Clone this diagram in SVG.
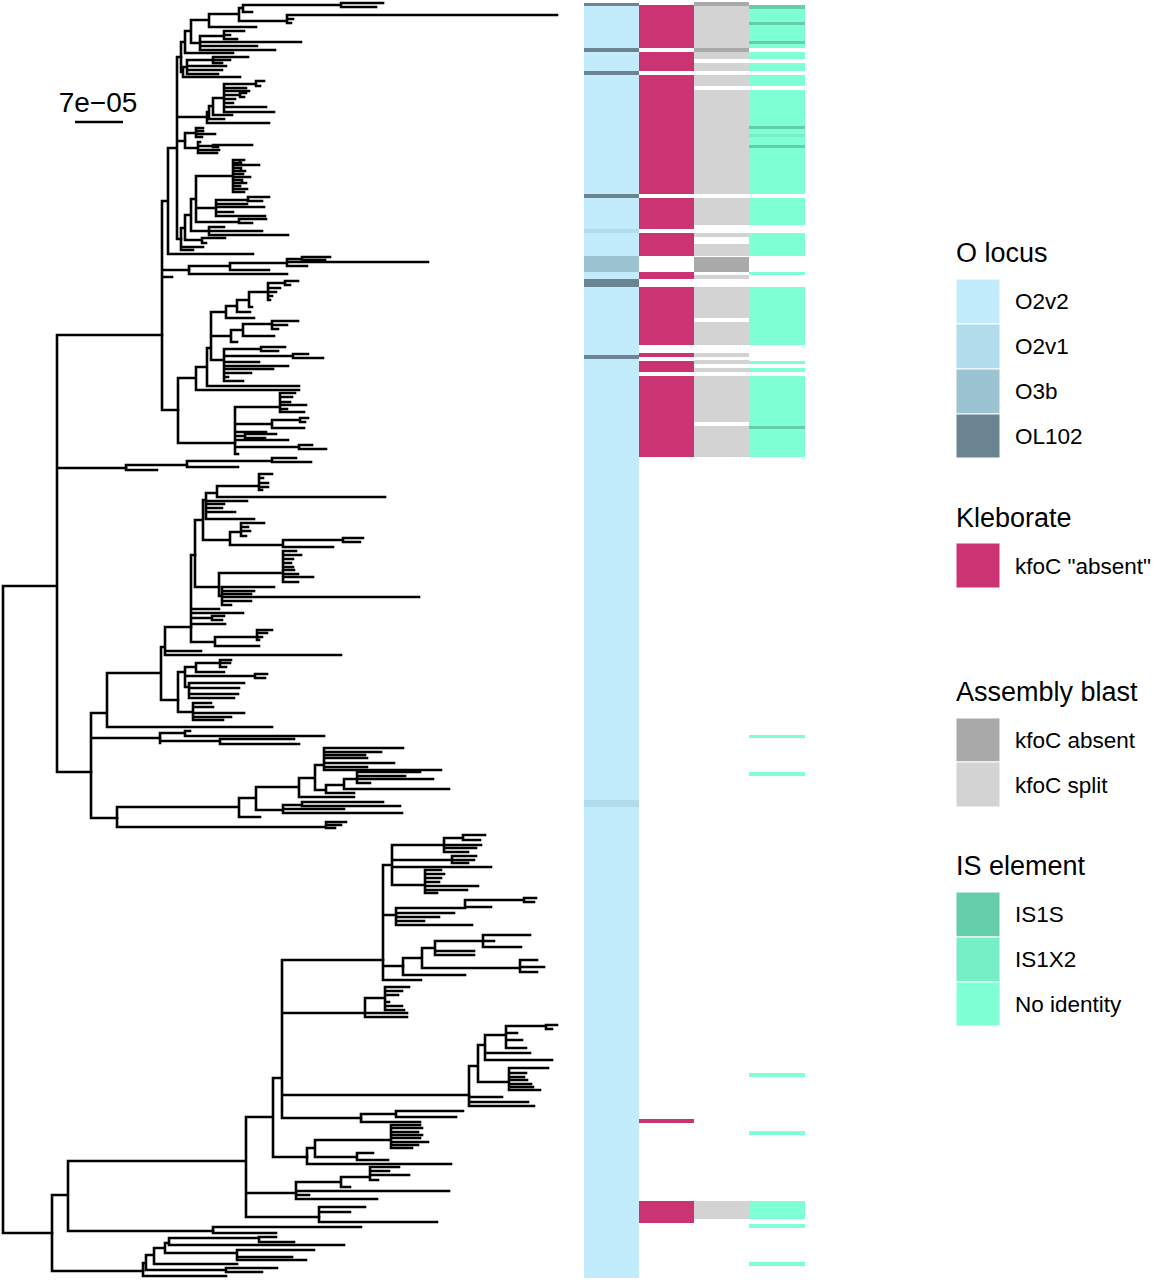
<svg xmlns="http://www.w3.org/2000/svg" width="1157" height="1280" viewBox="0 0 1157 1280">
<style>
.br{fill:none;stroke:#000;stroke-width:2.6;stroke-linecap:square}
.t{font-family:"Liberation Sans",Arial,Helvetica,sans-serif;fill:#000}
.ttl{font-size:27px}
.lab{font-size:22.5px}
.o22{fill:#c2ecfb}.o21{fill:#b0dcec}.o3b{fill:#9cc3d2}.ol{fill:#6a8591}
.kl{fill:#cc3373}.ab{fill:#a9a9a9}.sp{fill:#d3d3d3}
.s1{fill:#66cdaa}.x2{fill:#76eec6}.ni{fill:#7fffd4}
.lg{stroke:#fff;stroke-width:1}
</style>
<rect width="1157" height="1280" fill="#fff"/>

<g id="tree">
<path class="br" d="M3 586V1233M3 586H57M3 1233H52M57 335V772M57 335H162M57 468H126M57 772H91"/>
<path class="br" d="M162 201V410M162 201H168M162 270H189M162 277H172M162 410H178M168 148V254M168 148H177M168 254H253M177 57V239M177 57H181M177 117H207M177 141H185M177 239H181"/>
<path class="br" d="M181 42V72M181 42H185M181 72H183M185 31V53M185 31H191M185 53H233M191 20V43M191 20H209M191 43H200M209 14V27M209 14H239M209 27H256M239 8V21M239 8H243M239 21H287M243 5V12M243 5H341M243 12H252M341 3V7M341 3H383M341 7H376M287 15V23M287 15H557M287 19H293M287 23H291M200 36V50M200 36H224M200 42H301M200 46H257M200 50H275M224 31V39M224 31H244M224 35H230M224 39H237M183 67V77M183 67H187M183 77H240M187 60V74M187 60H213M187 66H226M187 70H222M187 74H218M213 57V63M213 57H248M213 60H230M213 63H222"/>
<path class="br" d="M207 112V123M207 112H209M207 123H269M209 106V119M209 106H213M209 119H224M213 98V115M213 98H224M213 115H232M224 84V112M224 84H256M224 88H246M224 91H249M224 95H240M224 99H235M224 103H233M224 107H266M224 112H274M256 81V86M256 81H264M256 86H260M240 93V97M240 93H246M240 97H244"/>
<path class="br" d="M185 133V148M185 133H196M185 148H198M196 128V137M196 128H203M196 131H203M196 134H215M196 137H202M198 142V153M198 142H200M198 146H213M198 150H219M198 153H217M213 145V147M213 145H252M213 147H218"/>
<path class="br" d="M181 228V250M181 228H185M181 247H203M181 250H193M185 215V240M185 215H191M185 240H202M202 238V243M202 238H225M202 243H206M191 199V231M191 199H196M191 231H209M209 227V235M209 227H224M209 231H262M209 235H288M196 176V222M196 176H233M196 208H216M196 222H239M239 219V223M239 219H266M239 223H252M216 200V216M216 200H248M216 204H247M216 207H264M216 212H233M216 216H265M248 197V201M248 197H269M248 201H262M233 160V192M233 160H244M233 163H241M233 165H259M233 168H241M233 171H245M233 174H243M233 177H250M233 180H242M233 183H246M233 186H240M233 189H247M233 192H244M240 160V163M241 168V171M242 180V183"/>
<path class="br" d="M189 266V274M189 266H230M189 274H287M230 263V270M230 263H287M230 270H269M287 259V266M287 259H302M287 262H428M287 266H307M302 257V260M302 257H330M302 260H325"/>
<path class="br" d="M178 378V443M178 378H196M178 443H235M196 367V390M196 367H207M196 390H299M207 348V386M207 348H211M207 386H299M211 312V360M211 312H226M211 336H231M211 360H224M226 306V318M226 306H237M226 318H254M237 300V312M237 300H249M237 312H250M249 292V307M249 292H268M249 307H252M268 283V300M268 283H285M268 288H280M268 292H276M268 296H272M268 300H270M285 281V285M285 281H298M285 285H290M231 330V342M231 330H243M231 342H237M243 324V336M243 324H272M243 336H274M272 321V329M272 321H298M272 325H287M272 329H278M224 349V381M224 349H261M224 356H293M224 362H259M224 366H288M224 369H273M224 373H251M224 377H228M224 381H243M261 347V351M261 347H285M261 351H278M293 354V358M293 354H308M293 358H323"/>
<path class="br" d="M235 407V454M235 407H280M235 424H272M235 432H266M235 436H245M235 440H288M235 447H299M235 454H238M280 393V412M280 393H295M280 397H292M280 402H290M280 405H306M280 409H287M280 412H304M272 420V428M272 420H300M272 428H304M300 418V422M300 418H308M300 422H305M245 434V438M245 434H276M245 438H265M299 445V449M299 445H312M299 449H326"/>
<path class="br" d="M126 465V470M126 465H187M126 470H157M187 461V467M187 461H272M187 467H238M272 458V462M272 458H296M272 462H311"/>
<path class="br" d="M91 713V818M91 713H107M91 738H160M91 818H117M107 673V727M107 673H161M107 727H272M161 647V700M161 647H165M161 700H178M165 627V655M165 627H191M165 651H201M165 655H341"/>
<path class="br" d="M191 555V642M191 555H195M191 609H219M191 613H243M191 618H212M191 624H225M191 642H215M212 616V620M212 616H224M212 620H222M215 637V646M215 637H257M215 646H259M257 630V640M257 630H272M257 633H267M257 637H262M257 640H259"/>
<path class="br" d="M195 520V587M195 520H203M195 587H219M203 500V540M203 500H206M203 540H230M206 493V519M206 493H217M206 501H247M206 504H224M206 508H222M206 512H235M206 519H254M217 486V497M217 486H259M217 497H385M259 474V490M259 474H272M259 478H263M259 483H268M259 487H268M259 490H262M230 532V545M230 532H241M230 545H283M241 523V536M241 523H264M241 527H248M241 531H250M241 536H246M283 540V547M283 540H343M283 547H333M343 538V542M343 538H363M343 542H360"/>
<path class="br" d="M219 573V596M219 573H283M219 596H222M283 551V582M283 551H296M283 555H301M283 559H293M283 563H291M283 567H293M283 570H294M283 574H298M283 577H313M283 582H298M222 587V605M222 587H274M222 591H254M222 594H251M222 597H419M222 601H251M222 605H231"/>
<path class="br" d="M178 672V712M178 672H185M178 712H193M185 667V687M185 667H196M185 676H255M185 687H189M196 663V672M196 663H220M196 672H224M220 660V667M220 660H231M220 663H230M220 667H226M255 674V678M255 674H267M255 678H265M189 683V698M189 683H244M189 688H239M189 694H238M189 698H234M193 703V720M193 703H211M193 707H213M193 713H244M193 717H231M193 720H223"/>
<path class="br" d="M160 733V743M160 733H185M160 741H220M185 731V736M185 731H190M185 736H324M220 739V744M220 739H294M220 744H299"/>
<path class="br" d="M117 807V827M117 807H239M117 827H326M326 822V828M326 822H346M326 825H341M326 828H335M239 798V817M239 798H256M239 817H260M256 787V810M256 787H299M256 810H283M299 778V797M299 778H315M299 797H354M315 765V790M315 765H324M315 790H326M324 748V770M324 748H403M324 752H381M324 755H365M324 758H367M324 763H394M324 767H367M324 770H441M326 785V793M326 785H344M326 793H354M344 779V789M344 779H357M344 789H449M357 772V783M357 772H420M357 776H405M357 779H433M357 783H370M283 805V813M283 805H302M283 809H344M283 813H402M302 802V806M302 802H383M302 806H400"/>
<path class="br" d="M52 1195V1271M52 1195H68M52 1271H143M68 1161V1231M68 1161H246M68 1231H213M246 1117V1217M246 1117H273M246 1193H296M246 1217H319M273 1078V1157M273 1078H282M273 1157H307M282 960V1118M282 960H383M282 1013H365M282 1095H469M282 1118H361"/>
<path class="br" d="M383 865V980M383 865H392M383 915H396M383 966H403M383 980H421M392 845V885M392 845H444M392 860H452M392 867H491M392 885H425M444 838V852M444 838H463M444 845H481M444 848H476M444 852H468M463 835V840M463 835H485M463 840H480M452 856V863M452 856H476M452 860H474M452 863H468M425 870V893M425 870H441M425 874H444M425 878H441M425 882H439M425 886H478M425 890H467M425 893H437"/>
<path class="br" d="M396 908V925M396 908H465M396 913H454M396 917H439M396 921H424M396 925H472M465 900V907M465 900H524M465 907H491M524 898V902M524 898H536M524 902H534M403 958V975M403 958H422M403 975H465M422 948V968M422 948H435M422 968H520M435 941V955M435 941H483M435 951H474M435 955H474M483 935V947M483 935H530M483 941H494M483 947H521M520 960V972M520 960H537M520 967H544M520 972H537"/>
<path class="br" d="M365 998V1017M365 998H385M365 1013H407M365 1017H407M385 987V1010M385 987H409M385 991H402M385 995H398M385 1002H389M385 1006H402M385 1010H404"/>
<path class="br" d="M469 1066V1106M469 1066H478M469 1097H502M469 1102H528M469 1106H534M478 1045V1082M478 1045H485M478 1082H509M485 1035V1060M485 1035H506M485 1053H530M485 1060H552M506 1026V1048M506 1026H546M506 1033H517M506 1040H522M506 1048H526M546 1025V1029M546 1025H557M546 1029H552M509 1068V1090M509 1068H548M509 1073H526M509 1077H524M509 1080H527M509 1084H531M509 1087H533M509 1090H540M361 1114V1122M361 1114H396M361 1122H420M396 1111V1117M396 1111H463M396 1117H456"/>
<path class="br" d="M307 1148V1164M307 1148H315M307 1164H451M315 1140V1157M315 1140H391M315 1157H357M391 1125V1148M391 1125H420M391 1128H422M391 1132H418M391 1135H422M391 1138H420M391 1142H428M391 1145H418M391 1148H412M357 1153V1160M357 1153H373M357 1160H388"/>
<path class="br" d="M296 1182V1199M296 1182H341M296 1191H449M296 1195H309M296 1199H377M341 1177V1187M341 1177H370M341 1187H350M370 1167V1180M370 1167H399M370 1171H389M370 1175H409M370 1180H378M319 1207V1222M319 1207H365M319 1212H350M319 1222H437M213 1227V1233M213 1227H361M213 1233H276"/>
<path class="br" d="M143 1263V1276M143 1263H146M143 1276H226M146 1255V1270M146 1255H154M146 1270H226M226 1268V1272M226 1268H277M226 1272H262M154 1248V1264M154 1248H165M154 1264H237M165 1243V1253M165 1243H169M165 1253H237M237 1250V1260M237 1250H314M237 1257H292M237 1260H306M169 1238V1245M169 1238H259M169 1245H344M259 1237V1242M259 1237H276M259 1242H294"/>
</g>

<g id="scale">
<text class="t" x="98" y="112" font-size="28" text-anchor="middle">7e−05</text>
<path d="M75 122H123" stroke="#000" stroke-width="2.6"/>
</g>

<g id="heatmap">
<g id="col-olocus">
<rect class="o22" x="584" y="3" width="55" height="1275"/>
<rect class="ol" x="584" y="3" width="55" height="3"/>
<rect class="ol" x="584" y="48" width="55" height="4"/>
<rect class="ol" x="584" y="71" width="55" height="4"/>
<rect class="ol" x="584" y="194" width="55" height="4"/>
<rect class="o21" x="584" y="229" width="55" height="4"/>
<rect class="o3b" x="584" y="256" width="55" height="16"/>
<rect class="ol" x="584" y="279" width="55" height="8"/>
<rect class="ol" x="584" y="355" width="55" height="4"/>
<rect class="o21" x="584" y="800" width="55" height="7"/>
</g>
<g id="col-kleborate">
<rect class="kl" x="639" y="5" width="55" height="43"/>
<rect class="kl" x="639" y="52" width="55" height="19"/>
<rect class="kl" x="639" y="75" width="55" height="119"/>
<rect class="kl" x="639" y="198" width="55" height="31"/>
<rect class="kl" x="639" y="233" width="55" height="23"/>
<rect class="kl" x="639" y="272" width="55" height="7"/>
<rect class="kl" x="639" y="287" width="55" height="58"/>
<rect class="kl" x="639" y="353" width="55" height="4"/>
<rect class="kl" x="639" y="361" width="55" height="11"/>
<rect class="kl" x="639" y="376" width="55" height="81"/>
<rect class="kl" x="639" y="1119" width="55" height="4"/>
<rect class="kl" x="639" y="1201" width="55" height="22"/>
</g>
<g id="col-blast">
<rect class="ab" x="694" y="2" width="55" height="4"/>
<rect class="sp" x="694" y="6" width="55" height="42"/>
<rect class="ab" x="694" y="48" width="55" height="4"/>
<rect class="sp" x="694" y="52" width="55" height="7"/>
<rect class="sp" x="694" y="63" width="55" height="8"/>
<rect class="sp" x="694" y="75" width="55" height="11"/>
<rect class="sp" x="694" y="90" width="55" height="104"/>
<rect class="sp" x="694" y="198" width="55" height="27"/>
<rect class="sp" x="694" y="233" width="55" height="4"/>
<rect class="sp" x="694" y="244" width="55" height="12"/>
<rect class="ab" x="694" y="257" width="55" height="15"/>
<rect class="sp" x="694" y="275" width="55" height="4"/>
<rect class="sp" x="694" y="287" width="55" height="31"/>
<rect class="sp" x="694" y="322" width="55" height="23"/>
<rect class="sp" x="694" y="353" width="55" height="4"/>
<rect class="sp" x="694" y="360" width="55" height="4"/>
<rect class="sp" x="694" y="368" width="55" height="4"/>
<rect class="sp" x="694" y="376" width="55" height="46"/>
<rect class="sp" x="694" y="426" width="55" height="31"/>
<rect class="sp" x="694" y="1201" width="55" height="18"/>
</g>
<g id="col-is">
<rect class="ni" x="749" y="5" width="56" height="43"/>
<rect class="s1" x="749" y="5" width="56" height="4"/>
<rect class="s1" x="749" y="22" width="56" height="3"/>
<rect class="s1" x="749" y="41" width="56" height="3"/>
<rect class="ni" x="749" y="52" width="56" height="7"/>
<rect class="ni" x="749" y="63" width="56" height="8"/>
<rect class="ni" x="749" y="75" width="56" height="11"/>
<rect class="ni" x="749" y="90" width="56" height="104"/>
<rect class="s1" x="749" y="126" width="56" height="3"/>
<rect class="x2" x="749" y="134" width="56" height="3"/>
<rect class="s1" x="749" y="145" width="56" height="3"/>
<rect class="ni" x="749" y="198" width="56" height="27"/>
<rect class="ni" x="749" y="233" width="56" height="23"/>
<rect class="ni" x="749" y="272" width="56" height="3"/>
<rect class="ni" x="749" y="287" width="56" height="58"/>
<rect class="ni" x="749" y="361" width="56" height="3"/>
<rect class="ni" x="749" y="368" width="56" height="4"/>
<rect class="ni" x="749" y="376" width="56" height="81"/>
<rect class="s1" x="749" y="426" width="56" height="3"/>
<rect class="ni" x="749" y="735" width="56" height="3"/>
<rect class="ni" x="749" y="772" width="56" height="4"/>
<rect class="ni" x="749" y="1073" width="56" height="4"/>
<rect class="ni" x="749" y="1131" width="56" height="4"/>
<rect class="ni" x="749" y="1201" width="56" height="18"/>
<rect class="ni" x="749" y="1224" width="56" height="4"/>
<rect class="ni" x="749" y="1262" width="56" height="4"/>
</g>
</g>

<g id="legend-olocus">
<text class="t ttl" x="956" y="262">O locus</text>
<rect class="o22 lg" x="956" y="279" width="44" height="45"/>
<rect class="o21 lg" x="956" y="324" width="44" height="45"/>
<rect class="o3b lg" x="956" y="369" width="44" height="45"/>
<rect class="ol lg" x="956" y="414" width="44" height="44"/>
<text class="t lab" x="1015" y="309">O2v2</text>
<text class="t lab" x="1015" y="354">O2v1</text>
<text class="t lab" x="1015" y="399">O3b</text>
<text class="t lab" x="1015" y="444">OL102</text>
</g>
<g id="legend-kleborate">
<text class="t ttl" x="956" y="527">Kleborate</text>
<rect class="kl lg" x="956" y="543" width="44" height="45"/>
<text class="t lab" x="1015" y="574">kfoC "absent"</text>
</g>
<g id="legend-blast">
<text class="t ttl" x="956" y="701">Assembly blast</text>
<rect class="ab lg" x="956" y="718" width="44" height="44"/>
<rect class="sp lg" x="956" y="762" width="44" height="45"/>
<text class="t lab" x="1015" y="748">kfoC absent</text>
<text class="t lab" x="1015" y="793">kfoC split</text>
</g>
<g id="legend-is">
<text class="t ttl" x="956" y="875">IS element</text>
<rect class="s1 lg" x="956" y="892" width="44" height="45"/>
<rect class="x2 lg" x="956" y="937" width="44" height="45"/>
<rect class="ni lg" x="956" y="982" width="44" height="44"/>
<text class="t lab" x="1015" y="922">IS1S</text>
<text class="t lab" x="1015" y="967">IS1X2</text>
<text class="t lab" x="1015" y="1012">No identity</text>
</g>
</svg>
